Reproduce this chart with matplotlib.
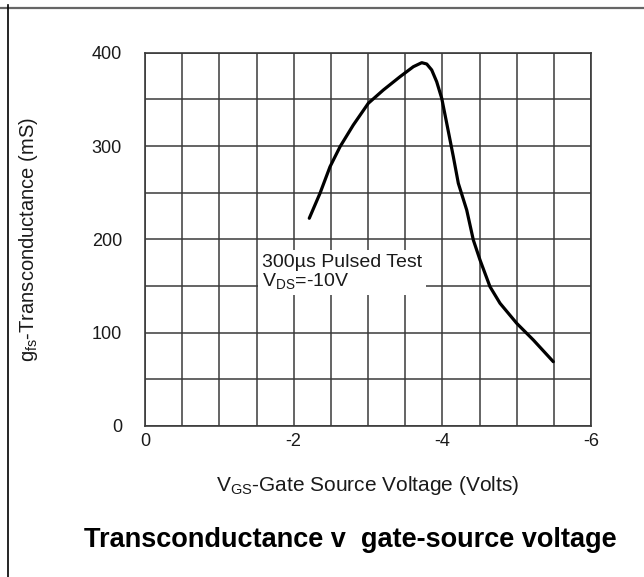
import matplotlib
matplotlib.use("Agg")
import matplotlib.pyplot as plt
from matplotlib.lines import Line2D
import numpy as np

plt.rcParams['font.family'] = ['Liberation Sans', 'DejaVu Sans']
plt.rcParams['mathtext.fontset'] = 'custom'
plt.rcParams['mathtext.rm'] = 'Liberation Sans'
plt.rcParams['mathtext.it'] = 'Liberation Sans'

# Data
vgs = [-2.21, -2.354, -2.489, -2.624, -2.802, -3.004, -3.206, -3.431, -3.610,
       -3.723, -3.790, -3.857, -3.924, -3.992, -4.059, -4.148, -4.215, -4.328,
       -4.417, -4.507, -4.641, -4.776, -5.001, -5.224, -5.493]
gfs = [222.6, 249.3, 277.8, 299.3, 322.5, 345.8, 360.0, 374.3, 385.0,
       389.3, 387.9, 381.5, 368.9, 351.1, 324.4, 288.6, 260.1, 231.4,
       199.3, 177.9, 149.3, 131.5, 110.0, 92.2, 68.9]
xticks = [0, -2, -4, -6]
xticklabels = ['0', '-2', '-4', '-6']
yticks = [0, 100, 200, 300, 400]
yticklabels = ['0', '100', '200', '300', '400']

fig = plt.figure(figsize=(6.44, 5.77), dpi=100)
ax = fig.add_axes([145/644, 1-426/577, (591-145)/644, (426-52.7)/577])

ax.set_xlim(0, -6)
ax.set_ylim(0, 400)
xgrid = np.round(np.arange(0, -6.01, -0.5), 1)
ygrid = np.arange(0, 401, 50)
ax.set_xticks(xgrid)
ax.set_yticks(ygrid)
ax.set_xticklabels([xticklabels[xticks.index(v)] if v in xticks else '' for v in xgrid])
ax.set_yticklabels([yticklabels[yticks.index(v)] if v in yticks else '' for v in ygrid])
ax.grid(True, color='#3a3a3a', linewidth=1.1)
ax.set_axisbelow(True)
for s in ax.spines.values():
    s.set_color('#3a3a3a')
    s.set_linewidth(1.2)
ax.tick_params(axis='both', length=0, labelsize=13, colors='#1a1a1a')
ax.tick_params(axis='y', pad=16.5)
ax.tick_params(axis='x', pad=5)

ax.plot(vgs, gfs, color='black', linewidth=2.3, solid_capstyle='round', solid_joinstyle='round', zorder=5)

ax.text(-1.57, 165, '300\u00b5s Pulsed Test\nV$_{\\rm DS}$=-10V', ha='left', va='center',
        fontsize=14, color='#1a1a1a', linespacing=1.0,
        bbox=dict(facecolor='white', edgecolor='none', pad=3), zorder=4)

ax.set_xlabel('V$_{\\rm GS}$-Gate Source Voltage (Volts)', fontsize=15, labelpad=17, color='#1a1a1a')
ax.set_ylabel('g$_{\\rm fs}$-Transconductance (mS)', fontsize=14.5, labelpad=37, color='#1a1a1a')

fig.text(350/644, 1-540/577, 'Transconductance v  gate-source voltage', ha='center', va='center',
         fontsize=19.5, fontweight='bold', color='black')

fig.add_artist(Line2D([0, 1], [1-8/577, 1-8/577], transform=fig.transFigure, color='#666666', linewidth=1.6))
fig.add_artist(Line2D([8/644, 8/644], [0, 1-5/577], transform=fig.transFigure, color='black', linewidth=1.2))

fig.savefig('out.png', dpi=100)
